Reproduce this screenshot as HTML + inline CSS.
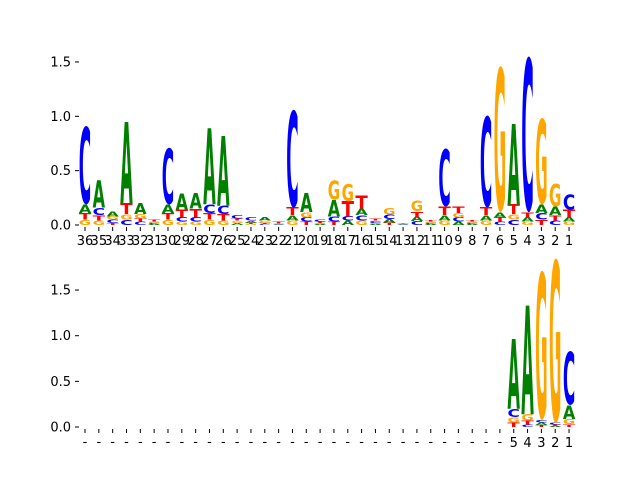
<!DOCTYPE html>
<html><head><meta charset="utf-8"><style>
body{margin:0;background:#fff}
svg{display:block}
text{font-family:"DejaVu Sans","Liberation Sans",sans-serif}
</style></head><body>
<svg id="chart" width="640" height="480" viewBox="0 0 640 480">
<g id="top"></g>
<g id="bot"></g>
</svg>
<script>
// letter order: A, C, G, T
const letters = ["A","C","G","T"];
const colors = {A:"#008000",C:"#0000ff",G:"#ffa500",T:"#ff0000"};
const topPositions = [36,35,34,33,32,31,30,29,28,27,26,25,24,23,22,21,20,19,18,17,16,15,14,13,12,11,10,9,8,7,6,5,4,3,2,1];
const topA = [0.08,0.25,0.05,0.75,0.10,0.01,0.08,0.15,0.14,0.70,0.64,0.02,0.02,0.03,0.005,0.05,0.17,0.01,0.15,0.04,0.06,0.01,0.03,0.005,0.04,0.01,0.05,0.03,0.01,0.05,0.05,0.74,0.04,0.08,0.08,0.04];
const topC = [0.72,0.07,0.03,0.05,0.03,0.01,0.52,0.04,0.04,0.08,0.08,0.03,0.03,0.01,0.005,0.90,0.04,0.02,0.05,0.04,0.05,0.02,0.04,0.005,0.035,0.01,0.53,0.04,0.01,0.84,0.03,0.05,1.43,0.06,0.04,0.14];
const topG = [0.05,0.04,0.03,0.05,0.04,0.01,0.05,0.03,0.03,0.05,0.04,0.02,0.01,0.02,0.005,0.04,0.05,0.01,0.18,0.16,0.04,0.01,0.06,0.005,0.10,0.01,0.04,0.04,0.01,0.04,1.34,0.05,0.03,0.79,0.21,0.03];
const topT = [0.06,0.05,0.02,0.10,0.03,0.02,0.06,0.07,0.08,0.06,0.06,0.02,0.01,0.01,0.02,0.07,0.03,0.01,0.03,0.14,0.12,0.02,0.025,0.005,0.05,0.01,0.08,0.06,0.01,0.07,0.04,0.09,0.05,0.05,0.05,0.07];
const topYTicks = [0.0,0.5,1.0,1.5];
const botLabels = ["-","-","-","-","-","-","-","-","-","-","-","-","-","-","-","-","-","-","-","-","-","-","-","-","-","-","-","-","-","-","-","5","4","3","2","1"];
const botA = [0,0,0,0,0,0,0,0,0,0,0,0,0,0,0,0,0,0,0,0,0,0,0,0,0,0,0,0,0,0,0,0.76,1.19,0.03,0.01,0.15];
const botC = [0,0,0,0,0,0,0,0,0,0,0,0,0,0,0,0,0,0,0,0,0,0,0,0,0,0,0,0,0,0,0,0.09,0.03,0.03,0.02,0.59];
const botG = [0,0,0,0,0,0,0,0,0,0,0,0,0,0,0,0,0,0,0,0,0,0,0,0,0,0,0,0,0,0,0,0.06,0.07,1.63,1.80,0.06];
const botT = [0,0,0,0,0,0,0,0,0,0,0,0,0,0,0,0,0,0,0,0,0,0,0,0,0,0,0,0,0,0,0,0.05,0.04,0.02,0.015,0.03];
const botYTicks = [0.0,0.5,1.0,1.5];

const NS="http://www.w3.org/2000/svg";
const xPos = i => 85 + i*13.83;
const LW = 12.4;
function mk(tag, parent, attrs){const e=document.createElementNS(NS,tag);for(const k in attrs)e.setAttribute(k,attrs[k]);parent.appendChild(e);return e;}

function drawPanel(g, y0, ppu, A, C, G, T, labels, yTicks, dashOffset){
  const y = v => y0 - v*ppu;
  yTicks.forEach(v=>{
    const t=mk("line",g,{x1:75,x2:79,y1:y(v),y2:y(v),stroke:"#000","stroke-width":1});
    
    
    const l=mk("text",g,{x:71,y:y(v)+4.5,"text-anchor":"end","font-size":13,fill:"#000"});
    l.textContent=v.toFixed(1);
    
    
  });
  labels.forEach((lab,i)=>{
    const t=mk("line",g,{x1:xPos(i),x2:xPos(i),y1:y0+2,y2:y0+6,stroke:"#000","stroke-width":1});
    
    
    const isDash = lab==="-";
    const l=mk("text",g,{x:xPos(i),y:isDash? y0+dashOffset : y0+20,"text-anchor":"middle","font-size":13,fill:"#000"});
    l.textContent=lab;
    
    
  });
  for(let i=0;i<labels.length;i++){
    const vals=[["A",A[i]],["C",C[i]],["G",G[i]],["T",T[i]]].filter(d=>d[1]>0).sort((a,b)=>a[1]-b[1]);
    let base=0;
    vals.forEach(([ch,h])=>{
      const hp=h*ppu;
      const t=mk("text",g,{x:0,y:0,"font-size":100,"font-weight":"bold","text-anchor":"middle",fill:colors[ch]});
      t.textContent=ch;
      
      
      let adv=t.getComputedTextLength(); if(!adv) adv=75;
      const capH = (ch==="C"||ch==="G")?75.5:72.9;
      const sx=LW/adv, sy=hp/capH;
      const yb=y(base) - ((ch==="C"||ch==="G")?1.3*sy:0);
      t.setAttribute("transform",`translate(${xPos(i)},${yb}) scale(${sx},${sy})`);
      base+=h;
    });
  }
}
drawPanel(document.getElementById("top"),225,108.7,topA,topC,topG,topT,topPositions.map(String),topYTicks,20);
drawPanel(document.getElementById("bot"),427,91.3,botA,botC,botG,botT,botLabels,botYTicks,19);
</script>
</body></html>
